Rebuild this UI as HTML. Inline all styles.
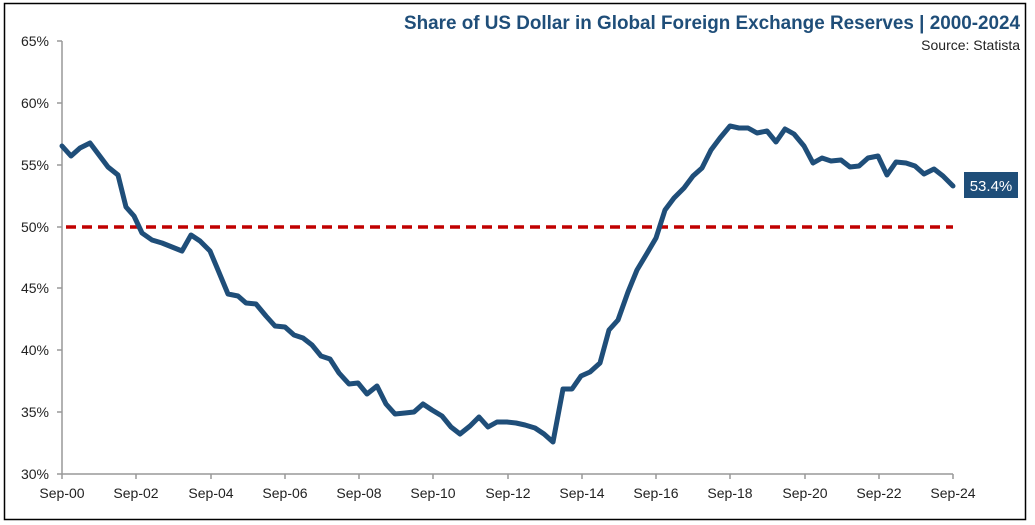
<!DOCTYPE html>
<html><head><meta charset="utf-8"><style>
body{margin:0;background:#fff;}
svg{display:block;font-family:"Liberation Sans",sans-serif;}
</style></head><body>
<svg width="1035" height="525" viewBox="0 0 1035 525">
<rect x="4.5" y="3.5" width="1021" height="516" fill="#fff" stroke="#000" stroke-width="1.5"/>
<text x="1020" y="29" text-anchor="end" font-size="19" font-weight="bold" fill="#1f4e79" textLength="616" lengthAdjust="spacingAndGlyphs">Share of US Dollar in Global Foreign Exchange Reserves | 2000-2024</text>
<text x="1020" y="50" text-anchor="end" font-size="14" fill="#222">Source: Statista</text>
<g stroke="#999" stroke-width="1.5">
<line x1="62" y1="41" x2="62" y2="474"/>
<line x1="62" y1="474" x2="953" y2="474"/>
<line x1="57" y1="41" x2="62" y2="41"/><line x1="57" y1="103" x2="62" y2="103"/><line x1="57" y1="165" x2="62" y2="165"/><line x1="57" y1="227" x2="62" y2="227"/><line x1="57" y1="288" x2="62" y2="288"/><line x1="57" y1="350" x2="62" y2="350"/><line x1="57" y1="412" x2="62" y2="412"/><line x1="57" y1="474" x2="62" y2="474"/>
<line x1="62" y1="474" x2="62" y2="479"/><line x1="136" y1="474" x2="136" y2="479"/><line x1="211" y1="474" x2="211" y2="479"/><line x1="285" y1="474" x2="285" y2="479"/><line x1="359" y1="474" x2="359" y2="479"/><line x1="433" y1="474" x2="433" y2="479"/><line x1="508" y1="474" x2="508" y2="479"/><line x1="582" y1="474" x2="582" y2="479"/><line x1="656" y1="474" x2="656" y2="479"/><line x1="730" y1="474" x2="730" y2="479"/><line x1="805" y1="474" x2="805" y2="479"/><line x1="879" y1="474" x2="879" y2="479"/><line x1="953" y1="474" x2="953" y2="479"/>
</g>
<g font-size="14" fill="#222" text-anchor="end">
<text x="49" y="46">65%</text><text x="49" y="108">60%</text><text x="49" y="170">55%</text><text x="49" y="232">50%</text><text x="49" y="293">45%</text><text x="49" y="355">40%</text><text x="49" y="417">35%</text><text x="49" y="479">30%</text>
</g>
<g font-size="14" fill="#222" text-anchor="middle">
<text x="62" y="498">Sep-00</text><text x="136" y="498">Sep-02</text><text x="211" y="498">Sep-04</text><text x="285" y="498">Sep-06</text><text x="359" y="498">Sep-08</text><text x="433" y="498">Sep-10</text><text x="508" y="498">Sep-12</text><text x="582" y="498">Sep-14</text><text x="656" y="498">Sep-16</text><text x="730" y="498">Sep-18</text><text x="805" y="498">Sep-20</text><text x="879" y="498">Sep-22</text><text x="953" y="498">Sep-24</text>
</g>
<line x1="66" y1="227" x2="953" y2="227" stroke="#c00000" stroke-width="3.5" stroke-dasharray="10,6"/>
<polyline fill="none" stroke="#1f4e79" stroke-width="5" stroke-linejoin="round" stroke-linecap="round" points="62,146 71,156 80,148 90,143 99,155 108,167 118,175 126,207 134,216 142,233 152,240 162,243 172,247 182,251 191,235 200,241 210,251 218,270 228,294 238,296 246,303 256,304 266,316 275,326 285,327 294,335 303,338 312,345 321,356 330,359 339,373 349,384 358,383 367,394 377,386 386,404 395,414 405,413 414,412 423,404 432,410 442,416 451,427 460,434 470,426 479,417 488,427 497,422 507,422 516,423 525,425 535,428 544,434 553,442 563,389 572,389 581,376 590,372 600,363 609,330 618,320 628,292 637,270 646,255 656,238 665,210 674,198 684,188 693,176 702,168 711,150 720,138 730,126 739,128 748,128 757,133 767,131 776,142 785,129 794,134 804,146 813,163 822,158 831,161 841,160 850,167 859,166 868,158 878,156 887,175 896,162 906,163 915,166 924,174 934,169 943,176 953,186"/>
<rect x="964" y="172" width="54" height="26" fill="#1f4e79"/>
<text x="991" y="191" text-anchor="middle" font-size="15" fill="#fff">53.4%</text>
</svg>
</body></html>
